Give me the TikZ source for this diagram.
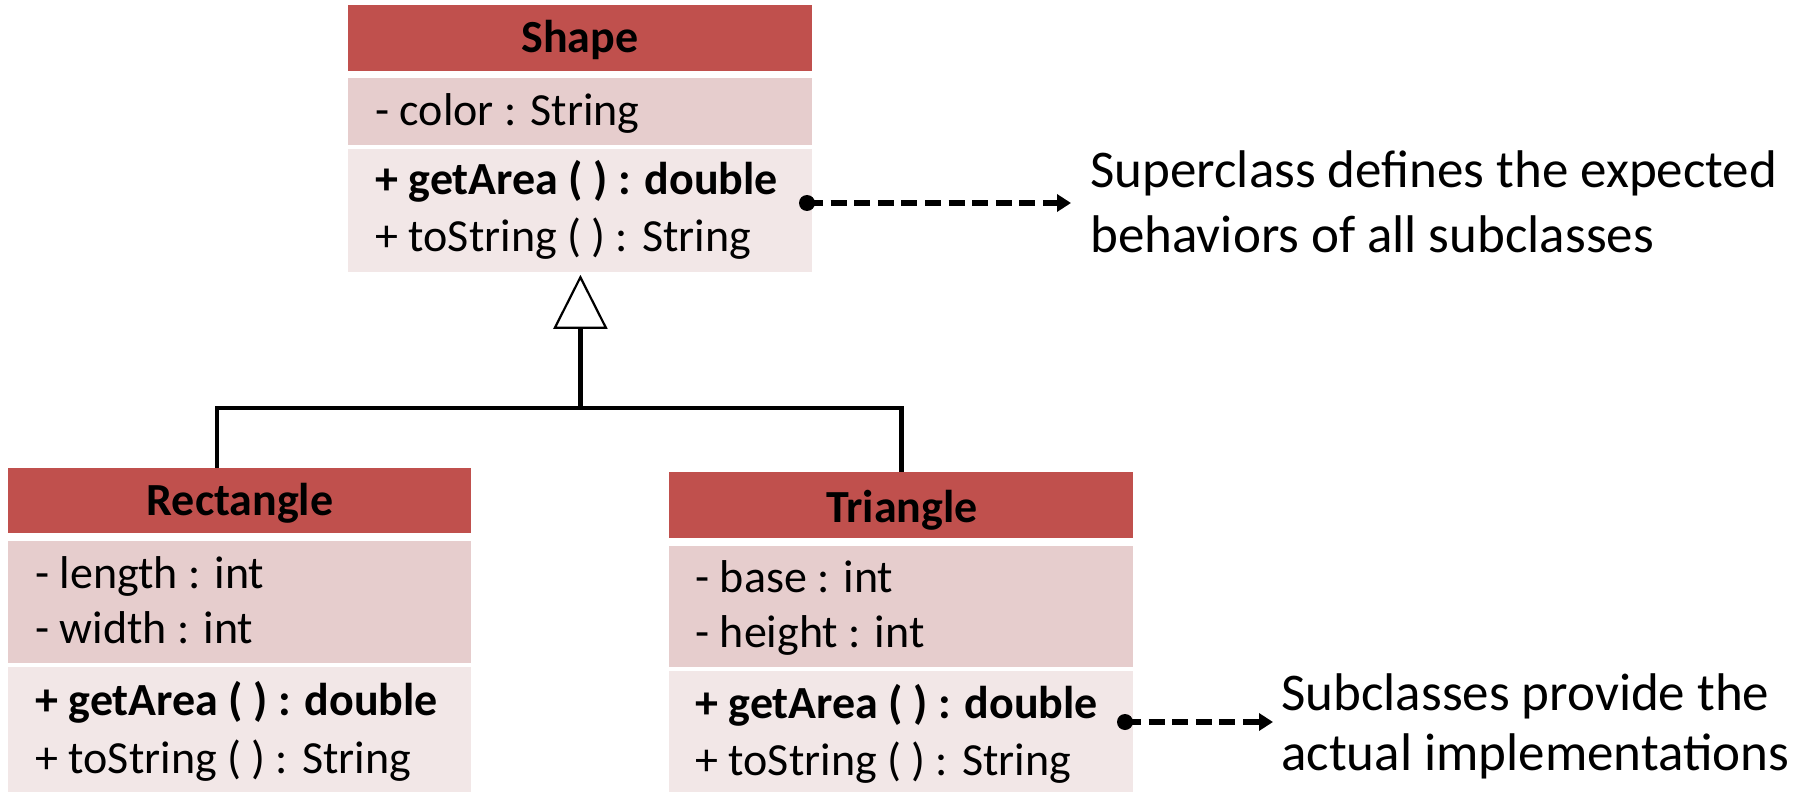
\documentclass[tikz,border=0pt]{standalone}
\usepackage{fontspec}
\setmainfont{Carlito}
\usetikzlibrary{arrows.meta}
\definecolor{hdrred}{RGB}{192,80,77}
\definecolor{attrpink}{RGB}{230,205,205}
\definecolor{methpink}{RGB}{242,231,231}
\tikzset{
  box/.style={anchor=north west, inner sep=0pt, draw=none, minimum width=232pt},
  hdrbox/.style={box, fill=hdrred},
  attrbox/.style={box, fill=attrpink},
  methbox/.style={box, fill=methpink},
  clsname/.style={anchor=base, inner sep=0pt, font=\fontsize{23pt}{28pt}\selectfont\bfseries},
  member/.style={anchor=base west, inner sep=0pt, font=\fontsize{23pt}{28pt}\selectfont},
  bmember/.style={member, font=\fontsize{23pt}{28pt}\selectfont\bfseries},
  note/.style={anchor=base west, inner sep=0pt, font=\fontsize{26.5pt}{31.5pt}\selectfont},
  conn/.style={draw=black, line width=2.1pt},
  inh/.style={conn, -{Triangle[open, length=27pt, width=27pt, line width=1.1pt]}},
  dotpt/.style={circle, fill=black, inner sep=0pt, minimum size=8pt},
  dasharrow/.style={draw=black, line width=2.6pt, dash pattern=on 8pt off 3.8pt,
    -{Triangle[length=7pt, width=8.5pt]}}
}
\begin{document}
\begin{tikzpicture}[x=0.5pt, y=-0.5pt]
\useasboundingbox (0,0) rectangle (1806,792);

% Shape class
\node[hdrbox, minimum height=33pt] (sh) at (348,5) {};
\node[attrbox, minimum height=33.5pt] (sa) at (348,78) {};
\node[methbox, minimum height=61.5pt] (sm) at (348,149) {};
\node[clsname] (shn) at (580,53) {Shape};
\node[member] (sa1) at (375,126) {- color : String};
\node[bmember] (sm1) at (375,194) {+ getArea ( ) : double};
\node[member] (sm2) at (375,251) {+ toString ( ) : String};

% Rectangle class
\node[hdrbox, minimum width=231.5pt, minimum height=32.5pt] (rh) at (8,468) {};
\node[attrbox, minimum width=231.5pt, minimum height=61pt] (ra) at (8,541) {};
\node[methbox, minimum width=231.5pt, minimum height=62.5pt] (rm) at (8,667) {};
\node[clsname] (rhn) at (240,515) {Rectangle};
\node[member] (ra1) at (35,588) {- length : int};
\node[member] (ra2) at (35,643) {- width : int};
\node[bmember] (rm1) at (35,715) {+ getArea ( ) : double};
\node[member] (rm2) at (35,773) {+ toString ( ) : String};

% Triangle class
\node[hdrbox, minimum height=33pt] (th) at (669,472) {};
\node[attrbox, minimum height=60.5pt] (ta) at (669,546) {};
\node[methbox, minimum height=60.5pt] (tm) at (669,671) {};
\node[clsname] (thn) at (902,522) {Triangle};
\node[member] (ta1) at (695,592) {- base : int};
\node[member] (ta2) at (695,647) {- height : int};
\node[bmember] (tm1) at (695,718) {+ getArea ( ) : double};
\node[member] (tm2) at (695,775) {+ toString ( ) : String};

% inheritance connectors
\coordinate (xl) at (217,0);
\coordinate (bar) at (0,408);
\draw[conn] (rh.north -| xl) |- (bar -| th.north) -- (th.north);
\draw[inh, shorten >=1pt] (bar -| sm.south) -- (sm.south);

% annotations
\node[dotpt] (d1) at (807,203) {};
\coordinate (e1) at (1071,203);
\node[note] (n1a) at (1090,188) {Superclass defines the expected};
\node[note] (n1b) at (1090,252) {behaviors of all subclasses};
\draw[dasharrow] (d1.center) -- (e1);

\node[dotpt] (d2) at (1125,722) {};
\coordinate (e2) at (1273,722);
\node[note] (n2a) at (1281,710) {Subclasses provide the};
\node[note] (n2b) at (1281,770) {actual implementations};
\draw[dasharrow] (d2.center) -- (e2);
\end{tikzpicture}
\end{document}
